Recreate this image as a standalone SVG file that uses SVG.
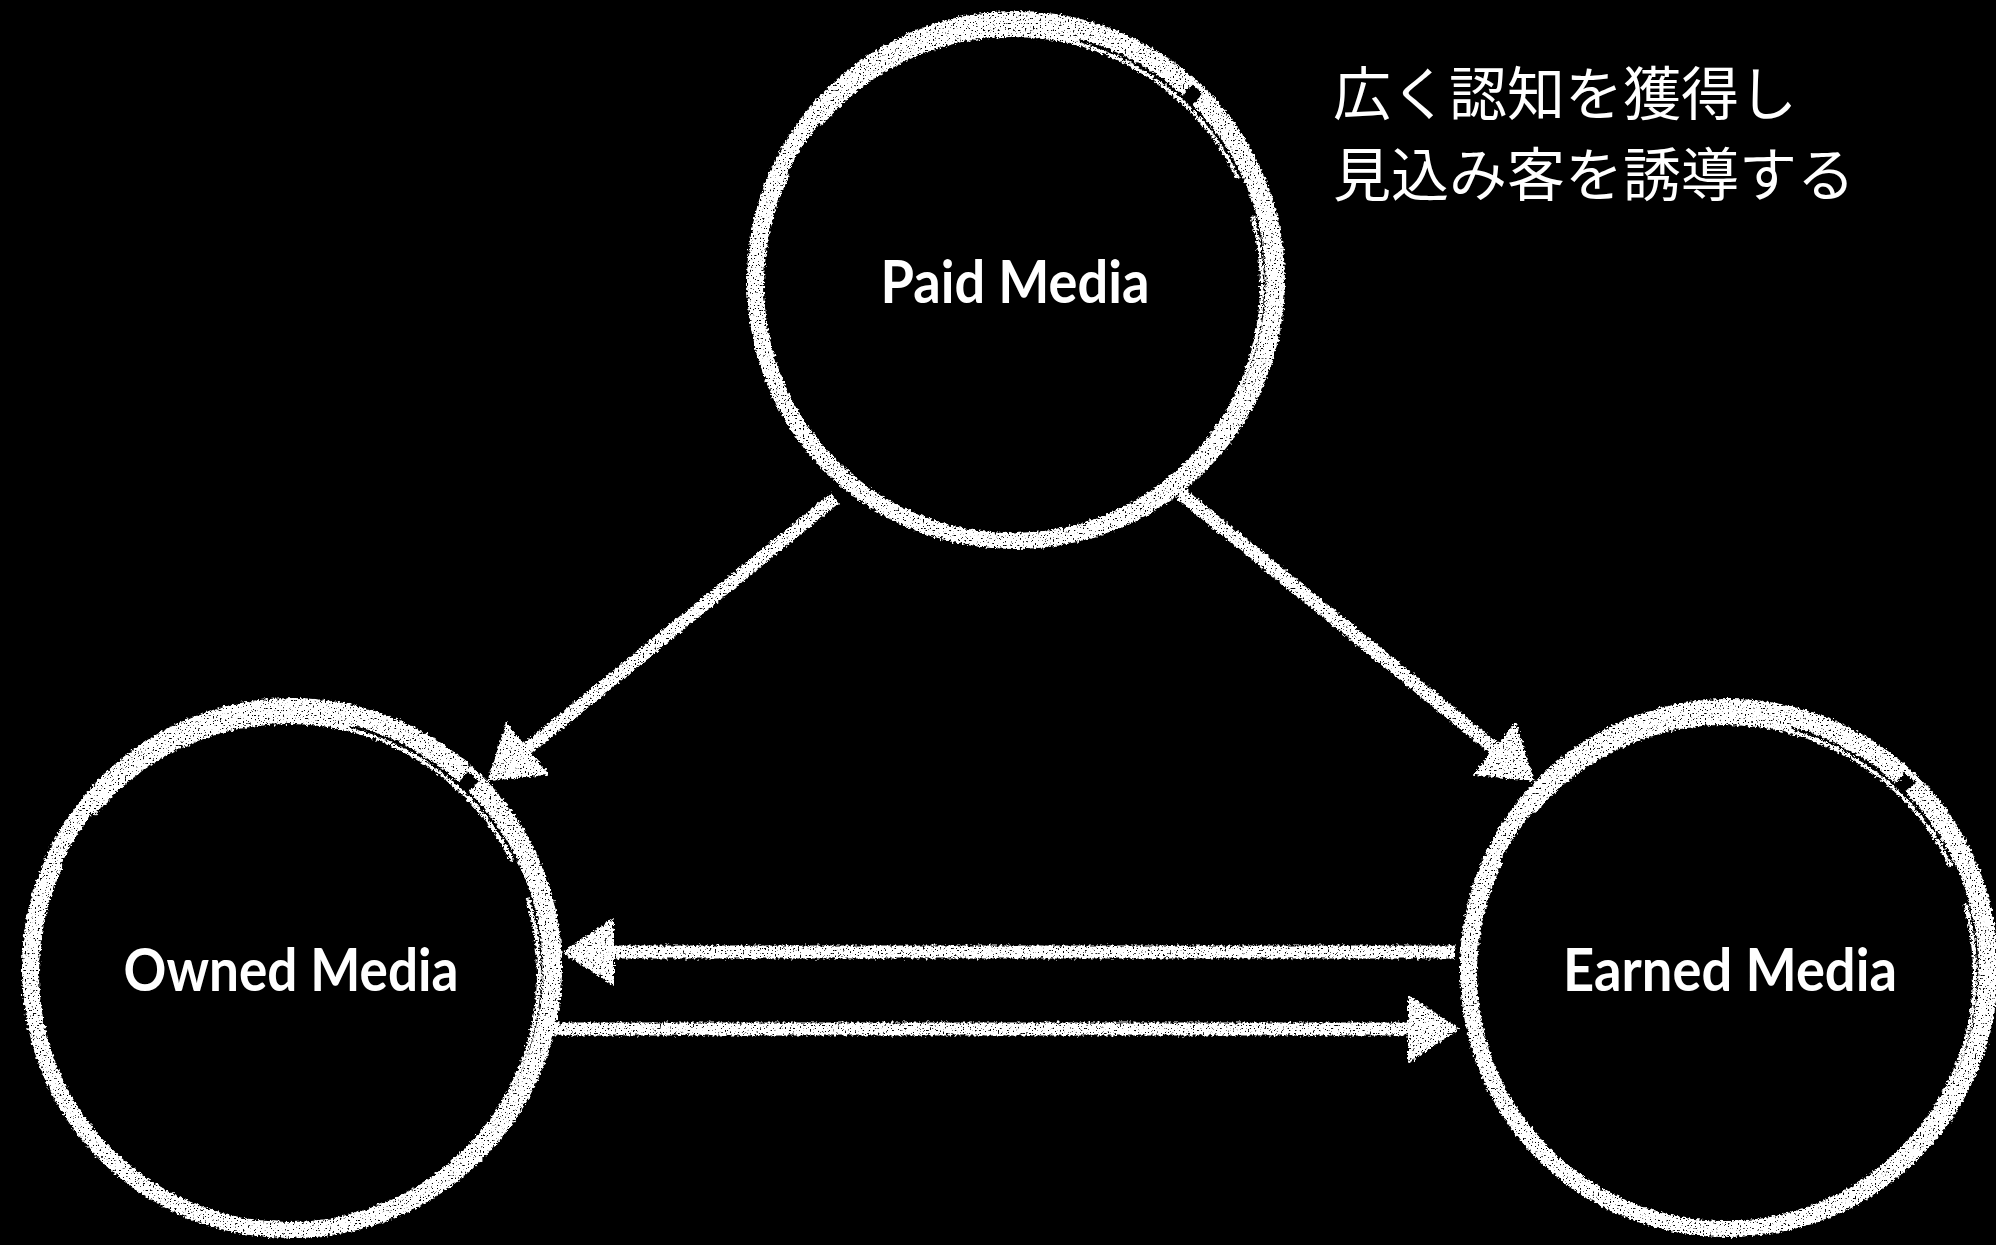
<svg xmlns="http://www.w3.org/2000/svg" width="1996" height="1245" viewBox="0 0 1996 1245">
<style>
.bg{fill:#000}
.ring{fill:none;stroke:#fff}
.main{stroke-width:15}
.heavy{stroke-width:13}
.outer{stroke-width:6}
.inner{stroke-width:4}
.conn{fill:none;stroke:#fff;stroke-width:13;stroke-linecap:butt}
.label{font-family:Lato,"Open Sans","Liberation Sans",sans-serif;font-weight:700;font-size:60px;fill:#fff;text-anchor:middle}
.note{font-family:"Noto Sans CJK JP","Noto Sans",sans-serif;font-weight:400;font-size:58px;fill:#fff}
</style>
<defs>
<filter id="chalk" filterUnits="userSpaceOnUse" x="0" y="0" width="1996" height="1245" color-interpolation-filters="sRGB">
<feTurbulence type="fractalNoise" baseFrequency="0.35" numOctaves="2" seed="7" result="n"/>
<feDisplacementMap in="SourceGraphic" in2="n" scale="6" xChannelSelector="R" yChannelSelector="G" result="d"/>
<feTurbulence type="fractalNoise" baseFrequency="0.6" numOctaves="1" seed="2" result="n2"/>
<feColorMatrix in="n2" type="matrix" values="0 0 0 0 1  0 0 0 0 1  0 0 0 0 1  -12 0 0 0 8.4" result="m"/>
<feComposite in="d" in2="m" operator="in"/>
</filter>
<marker id="ah" markerUnits="userSpaceOnUse" markerWidth="56" markerHeight="72" viewBox="0 -36 56 72" refX="1" refY="0" orient="auto">
<path d="M0,-34 L52,0 L0,34 Z" fill="#fff"/>
</marker>
</defs>
<rect class="bg" x="0" y="0" width="1996" height="1245"/>

<g id="connectors" filter="url(#chalk)">
<path id="paid-owned" class="conn" d="M835,498 L527,749" marker-end="url(#ah)"/>
<path id="paid-earned" class="conn" d="M1180,493 L1495,749" marker-end="url(#ah)"/>
<path id="earned-owned" class="conn" d="M1455,952 L613,952" marker-end="url(#ah)"/>
<path id="owned-earned" class="conn" d="M552,1029 L1409,1029" marker-end="url(#ah)"/>
</g>

<g id="paid">
<g filter="url(#chalk)">
<circle class="ring main" cx="1014" cy="282" r="259" stroke-dasharray="1410 14 400"/>
<circle class="ring heavy" cx="1011" cy="285" r="257" stroke-dasharray="0 380 900 400"/>
<circle class="ring outer" cx="1016" cy="280" r="266"/>
<circle class="ring inner" cx="1012" cy="285" r="250" stroke-dasharray="900 60 500 40 300"/>
</g>
<text class="label" x="1015" y="303" textLength="269" lengthAdjust="spacingAndGlyphs">Paid Media</text>
</g>

<g id="owned">
<g filter="url(#chalk)">
<circle class="ring main" cx="290" cy="970" r="260" stroke-dasharray="1415 14 400"/>
<circle class="ring heavy" cx="287" cy="973" r="258" stroke-dasharray="0 380 900 400"/>
<circle class="ring outer" cx="292" cy="968" r="267"/>
<circle class="ring inner" cx="288" cy="973" r="251" stroke-dasharray="900 60 500 40 300"/>
</g>
<text class="label" x="291" y="991" textLength="335" lengthAdjust="spacingAndGlyphs">Owned Media</text>
</g>

<g id="earned">
<g filter="url(#chalk)">
<circle class="ring main" cx="1727" cy="970" r="259" stroke-dasharray="1410 14 400"/>
<circle class="ring heavy" cx="1724" cy="973" r="257" stroke-dasharray="0 380 900 400"/>
<circle class="ring outer" cx="1729" cy="968" r="266"/>
<circle class="ring inner" cx="1725" cy="973" r="250" stroke-dasharray="900 60 500 40 300"/>
</g>
<text class="label" x="1730" y="991" textLength="334" lengthAdjust="spacingAndGlyphs">Earned Media</text>
</g>

<g id="note">
<text class="note" x="1333" y="115">広く認知を獲得し</text>
<text class="note" x="1333" y="196">見込み客を誘導する</text>
</g>
</svg>
